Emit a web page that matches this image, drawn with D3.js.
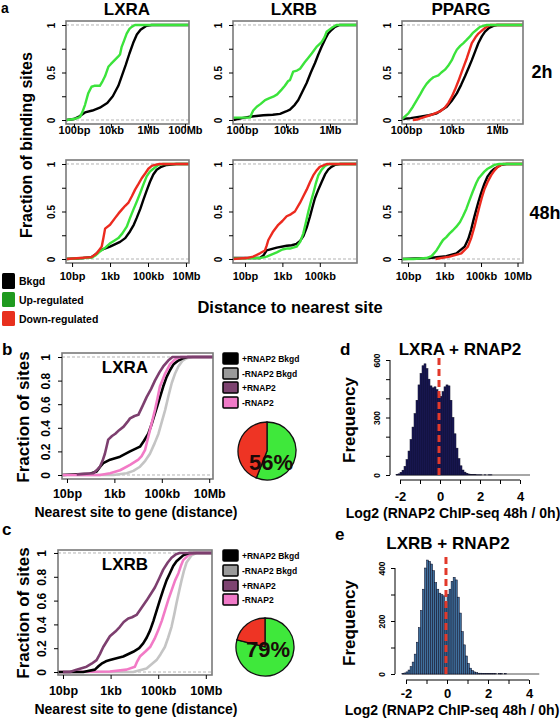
<!DOCTYPE html>
<html><head><meta charset="utf-8">
<script src="https://cdn.jsdelivr.net/npm/d3@7"></script>
<style>
body{margin:0;background:#fff}
svg{display:block}
text{font-family:"Liberation Sans",Arial,Helvetica,sans-serif;font-weight:bold;fill:#000}
</style>
</head><body>
<svg id="c" width="560" height="718"></svg>
<script>
// ---------------- DATA ----------------
// CDF curves: [log10(distance in bp), fraction of sites]
const a2h_LXRA_bkgd=[[1.6,0],[2.0,0.01],[2.3,0.04],[2.6,0.08],[3.0,0.10],[3.4,0.13],[3.8,0.18],[4.1,0.25],[4.4,0.36],[4.6,0.47],[4.8,0.58],[5.0,0.70],[5.2,0.81],[5.4,0.90],[5.6,0.95],[5.9,0.99],[6.2,1],[8.22,1]];
const a2h_LXRA_up=[[1.6,0],[2.0,0.01],[2.32,0.03],[2.45,0.08],[2.6,0.16],[2.77,0.28],[2.95,0.35],[3.1,0.36],[3.4,0.36],[3.55,0.41],[3.68,0.46],[3.86,0.56],[4.0,0.59],[4.2,0.63],[4.4,0.67],[4.49,0.69],[4.58,0.77],[4.7,0.83],[4.85,0.91],[5.0,0.96],[5.12,0.98],[5.3,1],[8.22,1]];
const a2h_LXRB_bkgd=[[1.6,0],[2.0,0.02],[2.36,0.035],[2.97,0.05],[3.4,0.055],[3.73,0.065],[4.0,0.09],[4.18,0.11],[4.4,0.16],[4.56,0.21],[4.75,0.3],[4.94,0.39],[5.13,0.5],[5.32,0.6],[5.47,0.69],[5.62,0.77],[5.78,0.85],[5.92,0.91],[6.08,0.95],[6.23,0.98],[6.45,1],[7.23,1]];
const a2h_LXRB_up=[[1.6,0.025],[2.36,0.025],[2.45,0.07],[2.51,0.1],[2.67,0.14],[2.85,0.17],[3.05,0.21],[3.25,0.23],[3.42,0.245],[3.6,0.27],[3.8,0.32],[3.95,0.36],[4.1,0.41],[4.18,0.42],[4.33,0.51],[4.5,0.52],[4.64,0.54],[4.86,0.61],[5.0,0.65],[5.17,0.7],[5.39,0.77],[5.62,0.82],[5.75,0.87],[5.85,0.93],[6.08,0.97],[6.3,1],[7.23,1]];
const a2h_PPARG_bkgd=[[1.82,0.01],[2.2,0.02],[2.62,0.035],[3.0,0.05],[3.35,0.07],[3.79,0.14],[4.0,0.2],[4.23,0.28],[4.42,0.37],[4.59,0.46],[4.75,0.55],[4.89,0.63],[5.05,0.73],[5.18,0.81],[5.33,0.88],[5.47,0.93],[5.65,0.97],[5.84,0.99],[6.0,1],[7.14,1]];
const a2h_PPARG_down=[[2.3,0],[2.47,0.005],[2.8,0.03],[3.05,0.05],[3.49,0.09],[3.7,0.13],[3.86,0.18],[4.0,0.24],[4.15,0.32],[4.3,0.41],[4.45,0.51],[4.56,0.58],[4.67,0.65],[4.78,0.73],[4.89,0.81],[5.05,0.87],[5.18,0.91],[5.47,0.97],[5.7,1],[7.14,1]];
const a2h_PPARG_up=[[1.82,0.01],[2.1,0.07],[2.3,0.14],[2.47,0.21],[2.62,0.27],[2.76,0.33],[2.9,0.38],[3.05,0.42],[3.2,0.45],[3.42,0.47],[3.55,0.5],[3.71,0.53],[3.85,0.57],[4.01,0.63],[4.12,0.69],[4.23,0.74],[4.38,0.78],[4.52,0.81],[4.65,0.84],[4.81,0.88],[4.95,0.92],[5.1,0.95],[5.25,0.98],[5.4,0.99],[5.55,1],[7.14,1]];
const a48_LXRA_bkgd=[[0.7,0],[1.59,0.01],[2.03,0.02],[2.25,0.05],[2.47,0.09],[3.0,0.13],[3.53,0.18],[3.8,0.22],[4.05,0.29],[4.25,0.36],[4.4,0.43],[4.6,0.53],[4.75,0.62],[4.93,0.72],[5.1,0.81],[5.28,0.89],[5.46,0.94],[5.7,0.97],[5.98,0.99],[6.5,1],[7.16,1]];
const a48_LXRA_up=[[0.7,0],[1.59,0.01],[2.03,0.015],[2.25,0.04],[2.47,0.08],[2.75,0.12],[3.0,0.165],[3.2,0.19],[3.44,0.22],[3.65,0.27],[3.88,0.34],[4.05,0.43],[4.23,0.52],[4.4,0.6],[4.58,0.69],[4.75,0.78],[4.93,0.87],[5.1,0.92],[5.28,0.95],[5.54,0.99],[5.8,1],[7.16,1]];
const a48_LXRA_down=[[0.7,0],[1.42,0.01],[2.03,0.02],[2.3,0.06],[2.56,0.13],[2.65,0.22],[2.74,0.32],[3.0,0.36],[3.26,0.43],[3.45,0.48],[3.62,0.52],[3.8,0.56],[3.96,0.59],[4.15,0.66],[4.32,0.73],[4.5,0.79],[4.67,0.85],[4.85,0.9],[5.02,0.95],[5.2,0.98],[5.37,0.99],[5.6,1],[7.16,1]];
const a48_LXRB_bkgd=[[0.36,0.01],[1.8,0.01],[2.0,0.04],[2.16,0.09],[2.7,0.12],[3.23,0.14],[3.5,0.145],[3.76,0.16],[3.95,0.19],[4.12,0.24],[4.3,0.33],[4.48,0.45],[4.6,0.54],[4.74,0.64],[4.92,0.73],[5.1,0.81],[5.28,0.89],[5.45,0.94],[5.62,0.97],[5.81,0.99],[6.1,1],[6.99,1]];
const a48_LXRB_up=[[0.36,0.005],[1.8,0.01],[2.16,0.025],[2.7,0.07],[3.0,0.1],[3.23,0.11],[3.4,0.11],[3.76,0.13],[3.95,0.18],[4.12,0.27],[4.25,0.38],[4.39,0.5],[4.52,0.6],[4.65,0.69],[4.78,0.79],[4.92,0.88],[5.1,0.94],[5.28,0.98],[5.5,1],[6.99,1]];
const a48_LXRB_down=[[0.36,0],[1.09,0.01],[1.44,0.025],[1.8,0.06],[2.07,0.09],[2.16,0.14],[2.25,0.2],[2.51,0.29],[2.78,0.36],[3.0,0.4],[3.23,0.45],[3.45,0.47],[3.67,0.5],[3.94,0.59],[4.12,0.66],[4.3,0.73],[4.48,0.81],[4.65,0.88],[4.82,0.93],[5.0,0.97],[5.37,1],[6.99,1]];
const a48_PPARG_bkgd=[[0.67,0],[2.2,0.01],[3.1,0.03],[3.65,0.06],[4.1,0.13],[4.3,0.21],[4.46,0.31],[4.6,0.42],[4.74,0.52],[4.87,0.61],[5.0,0.69],[5.18,0.79],[5.36,0.87],[5.55,0.92],[5.73,0.95],[6.09,0.99],[6.4,1],[7.3,1]];
const a48_PPARG_down=[[2.5,0],[3.28,0.025],[3.92,0.06],[4.28,0.13],[4.46,0.22],[4.64,0.34],[4.78,0.45],[4.91,0.55],[5.05,0.65],[5.18,0.73],[5.36,0.81],[5.55,0.88],[5.73,0.93],[5.91,0.97],[6.2,1],[7.3,1]];
const a48_PPARG_up=[[0.67,0],[1.29,0],[2.01,0.01],[2.29,0.03],[2.56,0.09],[2.75,0.15],[2.92,0.2],[3.1,0.23],[3.28,0.27],[3.45,0.3],[3.65,0.34],[3.85,0.39],[4.01,0.45],[4.2,0.53],[4.37,0.62],[4.55,0.71],[4.74,0.8],[4.87,0.85],[5.0,0.88],[5.18,0.92],[5.36,0.95],[5.55,0.97],[5.73,0.99],[6.0,1],[7.3,1]];

const b_gray=[[0.79,0],[2.96,0],[3.52,0.015],[3.8,0.035],[4.08,0.07],[4.3,0.12],[4.5,0.18],[4.7,0.27],[4.86,0.35],[5.0,0.45],[5.14,0.55],[5.28,0.67],[5.42,0.78],[5.56,0.86],[5.7,0.92],[5.88,0.97],[6.05,0.99],[6.3,1],[7.16,1]];
const b_black=[[0.79,0],[1.97,0.01],[2.25,0.03],[2.4,0.07],[2.53,0.1],[2.82,0.13],[3.24,0.155],[3.66,0.2],[4.08,0.24],[4.25,0.29],[4.43,0.35],[4.57,0.43],[4.71,0.52],[4.88,0.63],[5.06,0.75],[5.2,0.83],[5.35,0.89],[5.5,0.94],[5.7,0.97],[5.9,0.99],[6.1,1],[7.16,1]];
const b_pink=[[0.79,0],[2.39,0],[2.82,0.015],[3.24,0.04],[3.66,0.085],[4.01,0.13],[4.15,0.16],[4.29,0.21],[4.4,0.3],[4.5,0.38],[4.6,0.46],[4.71,0.55],[4.82,0.65],[4.92,0.75],[5.04,0.81],[5.14,0.86],[5.35,0.94],[5.5,0.97],[5.63,0.99],[5.8,1],[7.16,1]];
const b_purple=[[1.41,0.005],[2.11,0.015],[2.25,0.04],[2.39,0.07],[2.5,0.12],[2.6,0.18],[2.67,0.24],[2.74,0.3],[2.9,0.33],[3.04,0.35],[3.2,0.38],[3.39,0.41],[3.55,0.45],[3.66,0.48],[3.85,0.5],[4.01,0.51],[4.2,0.59],[4.36,0.66],[4.55,0.73],[4.71,0.8],[4.9,0.87],[5.06,0.92],[5.27,0.97],[5.45,1],[7.16,1]];

const c_gray=[[0.79,0],[3.95,0],[4.51,0.03],[4.93,0.1],[5.1,0.15],[5.28,0.21],[5.42,0.29],[5.56,0.38],[5.67,0.48],[5.77,0.58],[5.88,0.68],[5.98,0.77],[6.08,0.85],[6.19,0.92],[6.4,0.98],[6.6,1],[7.26,1]];
const c_black=[[0.79,0],[1.85,0],[2.34,0.02],[2.5,0.05],[2.62,0.07],[2.8,0.09],[2.97,0.1],[3.53,0.13],[3.95,0.17],[4.2,0.2],[4.37,0.24],[4.52,0.29],[4.66,0.35],[4.8,0.43],[4.94,0.52],[5.08,0.61],[5.21,0.69],[5.35,0.77],[5.49,0.83],[5.63,0.89],[5.77,0.93],[6.05,0.98],[6.3,1],[7.26,1]];
const c_pink=[[0.79,0],[2.97,0.005],[3.67,0.02],[4.02,0.045],[4.12,0.09],[4.23,0.13],[4.45,0.17],[4.66,0.21],[4.85,0.28],[5.0,0.35],[5.15,0.43],[5.29,0.52],[5.43,0.61],[5.57,0.69],[5.71,0.77],[5.85,0.83],[5.95,0.89],[6.05,0.94],[6.26,0.98],[6.5,1],[7.26,1]];
const c_purple=[[1.0,0],[1.29,0.0],[1.57,0.02],[1.99,0.045],[2.2,0.07],[2.41,0.1],[2.55,0.15],[2.69,0.21],[2.97,0.3],[3.2,0.34],[3.39,0.38],[3.55,0.42],[3.74,0.45],[3.9,0.46],[4.09,0.48],[4.3,0.54],[4.51,0.6],[4.7,0.66],[4.86,0.71],[5.05,0.79],[5.21,0.86],[5.4,0.92],[5.56,0.96],[5.75,0.99],[5.9,1],[7.26,1]];

// tick labels
const ticksEven=[2,4,6,8], labelsEven=['100bp','10kb','1Mb','100Mb'];
const ticksOdd=[1,3,5,7], labelsOdd=['10bp','1kb','100kb','10Mb'];
const aYTicks=[0,0.25,0.5,0.75,1], aYLabels=['0','','0.5','','1'];
const bYTicks=[0,0.2,0.4,0.6,0.8,1], bYLabels=['0','0.2','0.4','0.6','0.8','1'];

// pies: % green (overlap) vs rest
const pieLXRA=[56,44];
const pieLXRB=[79,21];

// histograms: bin start, width and counts
const histStart=-2.2, histWidth=0.1;
const d_counts=[3,6,14,25,45,80,125,185,250,320,390,470,530,570,580,555,500,465,455,460,445,420,410,435,460,470,465,390,300,215,140,85,48,26,15,9,5,3,2,2,1,1,1,0,1,0,1,1];
const e_counts=[2,4,8,15,28,45,75,120,175,240,320,400,430,425,415,390,345,320,305,300,295,270,300,320,350,365,355,290,230,160,110,68,40,22,13,8,5,3,3,2,2,1,1,1,1,1,0,1,1,0,1];
const dYTicks=[0,100,200,300,400,500,600], dYLabels=['0','','','300','','','600'];
const eYTicks=[0,100,200,300,400], eYLabels=['0','','200','','400'];
const hXTicks=[-2,-1,0,1,2,3,4], hXLabels=['-2','','0','','2','','4'];

// colours
const COL={black:'#000000',green:'#3be33b',red:'#ec2a1f',gray:'#c4c4c4',pink:'#f27ac6',purple:'#7d3f6f',
  pieGreen:'#3fe83b',pieRed:'#ee3424',histD:'#1c1b5e',histE:'#3f6f9c'};

// ---------------- DRAW ----------------
const svg=d3.select('#c');
svg.append('rect').attr('width',560).attr('height',718).attr('fill','#fff');

function txt(x,y,s,size,anchor,rot){
  const t=svg.append('text').attr('font-size',size).attr('text-anchor',anchor||'start').text(s);
  if(rot){t.attr('transform',`translate(${x},${y}) rotate(${rot})`);} else {t.attr('x',x).attr('y',y);}
  return t;
}
function styleText(sel,size){
  sel.attr('font-size',size).attr('fill','#000').attr('font-family','"Liberation Sans",Arial,sans-serif').attr('font-weight','bold');
}

function cdf(o){
  const g=svg.append('g');
  const x=d3.scaleLog().domain([10**o.lo,10**o.hi]).range([o.x0,o.x1]);
  const y=d3.scaleLinear().domain(o.yDom).range([o.y1,o.y0]);
  [0,1].forEach(v=>g.append('line').attr('x1',o.x0).attr('x2',o.x1).attr('y1',y(v)).attr('y2',y(v))
     .attr('stroke','#aaaaaa').attr('stroke-width',0.9).attr('stroke-dasharray','3,2'));
  const line=d3.line().x(d=>x(10**d[0])).y(d=>y(d[1]));
  o.series.forEach(s=>g.append('path').datum(s.data).attr('d',line).attr('fill','none')
     .attr('stroke',s.color).attr('stroke-width',o.lw).attr('stroke-linejoin','round'));
  g.append('rect').attr('x',o.x0).attr('y',o.y0).attr('width',o.x1-o.x0).attr('height',o.y1-o.y0)
     .attr('fill','none').attr('stroke','#7a7a7a').attr('stroke-width',1.6);
  const tv=o.xt.filter(e=>e>=o.lo&&e<=o.hi);
  const xa=g.append('g').attr('transform',`translate(0,${o.y1})`)
    .call(d3.axisBottom(x).tickValues(tv.map(e=>10**e)).tickSize(4).tickSizeOuter(0).tickFormat((d,i)=>o.xl[o.xt.indexOf(tv[i])]));
  xa.select('.domain').remove();
  xa.selectAll('line').attr('stroke','#000');
  styleText(xa.selectAll('text').attr('y',o.xLabOff).attr('dy',0),o.xfs);
  const ya=g.append('g').attr('transform',`translate(${o.x0},0)`)
    .call(d3.axisLeft(y).tickValues(o.yt).tickSize(4).tickSizeOuter(0).tickFormat((d,i)=>o.yl[i]));
  ya.select('.domain').remove();
  ya.selectAll('line').attr('stroke','#000');
  styleText(ya.selectAll('text').attr('x',0).attr('dy',0).attr('text-anchor','middle')
    .attr('transform',`translate(${-o.yLabOff},0) rotate(-90)`),o.yfs);
}

// panel a
const rowY=[[21,124],[160,263]];
const colX=[[66,189],[233,357],[402,523]];
const aDom=[-0.042,1.042];
const aDefs=[
  {r:0,c:0,lo:1.57,hi:8.22,xt:ticksEven,xl:labelsEven,series:[[a2h_LXRA_bkgd,'black'],[a2h_LXRA_up,'green']]},
  {r:0,c:1,lo:1.59,hi:7.23,xt:ticksEven,xl:labelsEven,series:[[a2h_LXRB_bkgd,'black'],[a2h_LXRB_up,'green']]},
  {r:0,c:2,lo:1.82,hi:7.14,xt:ticksEven,xl:labelsEven,series:[[a2h_PPARG_bkgd,'black'],[a2h_PPARG_down,'red'],[a2h_PPARG_up,'green']]},
  {r:1,c:0,lo:0.68,hi:7.16,xt:ticksOdd,xl:labelsOdd,series:[[a48_LXRA_bkgd,'black'],[a48_LXRA_up,'green'],[a48_LXRA_down,'red']]},
  {r:1,c:1,lo:0.36,hi:6.99,xt:ticksOdd,xl:labelsOdd,series:[[a48_LXRB_bkgd,'black'],[a48_LXRB_up,'green'],[a48_LXRB_down,'red']]},
  {r:1,c:2,lo:0.67,hi:7.3,xt:ticksOdd,xl:labelsOdd,series:[[a48_PPARG_bkgd,'black'],[a48_PPARG_down,'red'],[a48_PPARG_up,'green']]}
];
aDefs.forEach(d=>cdf({x0:colX[d.c][0],x1:colX[d.c][1],y0:rowY[d.r][0],y1:rowY[d.r][1],lo:d.lo,hi:d.hi,yDom:aDom,
  xt:d.xt,xl:d.xl,yt:aYTicks,yl:aYLabels,series:d.series.map(s=>({data:s[0],color:COL[s[1]]})),
  lw:2.4,xfs:11,yfs:10,xLabOff:d.r===0?10:17,yLabOff:11}));

txt(1,13,'a',14);
txt(127,15,'LXRA',17,'middle');
txt(294,15,'LXRB',17,'middle');
txt(461,15,'PPARG',17,'middle');
txt(542,78,'2h',18,'middle');
txt(545,219,'48h',18,'middle');
txt(32,145,'Fraction of binding sites',16,'middle',-90);
txt(290,313,'Distance to nearest site',16.5,'middle');
const aLeg=[['Bkgd','#000',273,16],['Up-regulated','#1f9a1f',292,15],['Down-regulated','#e8301e',311,15]];
aLeg.forEach(l=>{svg.append('rect').attr('x',2).attr('y',l[2]).attr('width',13).attr('height',l[3]).attr('rx',1.5).attr('fill',l[1]);
  txt(19,l[2]+l[3]/2+4,l[0],10.5);});

// panel b & c
cdf({x0:62,x1:213,y0:353,y1:479,lo:0.79,hi:7.16,yDom:[-0.034,1.034],xt:ticksOdd,xl:labelsOdd,yt:bYTicks,yl:bYLabels,
  series:[{data:b_gray,color:COL.gray},{data:b_black,color:COL.black},{data:b_pink,color:COL.pink},{data:b_purple,color:COL.purple}],
  lw:2.6,xfs:12.5,yfs:12,xLabOff:19,yLabOff:12});
cdf({x0:58,x1:212,y0:550,y1:675,lo:0.79,hi:7.26,yDom:[-0.025,1.025],xt:ticksOdd,xl:labelsOdd,yt:bYTicks,yl:bYLabels,
  series:[{data:c_gray,color:COL.gray},{data:c_pink,color:COL.pink},{data:c_black,color:COL.black},{data:c_purple,color:COL.purple}],
  lw:2.6,xfs:12.5,yfs:12,xLabOff:20,yLabOff:12});
txt(2,355,'b',17);
txt(2,535,'c',17);
txt(125,373,'LXRA',17,'middle');
txt(125,570,'LXRB',17,'middle');
txt(29,417,'Fraction of sites',17,'middle',-90);
txt(29,613,'Fraction of sites',17,'middle',-90);
txt(136,517,'Nearest site to gene (distance)',14,'middle');
txt(136,714,'Nearest site to gene (distance)',14,'middle');

const legItems=[['+RNAP2 Bkgd','#000'],['-RNAP2 Bkgd','#9a9a9a'],['+RNAP2','#7d4370'],['-RNAP2','#f07ac8']];
function legend(y0s){
  legItems.forEach((l,i)=>{svg.append('rect').attr('x',223).attr('y',y0s[i]).attr('width',15).attr('height',11)
    .attr('fill',l[1]).attr('stroke','#000').attr('stroke-width',1.5).attr('rx',1);
    txt(242,y0s[i]+9,l[0],8.5);});
}
legend([353,368,382,397]);
legend([550,565,580,594]);

function pieChart(cx,cy,vals,label,tx,ty){
  const p=d3.pie().sort(null).value(d=>d)(vals);
  const arc=d3.arc().innerRadius(0).outerRadius(29);
  const g=svg.append('g').attr('transform',`translate(${cx},${cy})`);
  g.selectAll('path').data(p).join('path').attr('d',arc).attr('fill',(d,i)=>i===0?COL.pieGreen:COL.pieRed)
    .attr('stroke','#111').attr('stroke-width',1.3);
  txt(tx,ty,label,22,'middle').style('fill','#1a0a08');
}
pieChart(267,451,pieLXRA,pieLXRA[0]+'%',271,470);
pieChart(265,647,pieLXRB,pieLXRB[0]+'%',268,657);

// histograms
function hist(o){
  const g=svg.append('g');
  const x=d3.scaleLinear().domain([0,1]).range([o.zx,o.zx+o.ppu]);
  const y=d3.scaleLinear().domain([0,o.ymax]).range([o.y0,o.ytop]);
  g.append('line').attr('x1',x(histStart)).attr('x2',x(4.5)).attr('y1',y(0)).attr('y2',y(0)).attr('stroke','#8a8a8a').attr('stroke-width',1.5);
  g.selectAll('rect').data(o.counts).join('rect')
    .attr('x',(d,i)=>x(histStart+i*histWidth)).attr('width',(d,i)=>x(histStart+(i+1)*histWidth)-x(histStart+i*histWidth))
    .attr('y',d=>y(d)).attr('height',d=>y(0)-y(d)).attr('fill',o.fill).attr('stroke','#0b0b22').attr('stroke-width',0.5);
  g.append('line').attr('x1',x(-0.05)).attr('x2',x(-0.05)).attr('y1',y(0)).attr('y2',y(o.redTop))
    .attr('stroke','#e2392b').attr('stroke-width',3).attr('stroke-dasharray','7,4');
  const ya=g.append('g').attr('transform',`translate(${o.ax},0)`).call(d3.axisLeft(y).tickValues(o.yt).tickSize(4).tickSizeOuter(0).tickFormat((d,i)=>o.yl[i]));
  ya.select('.domain').remove();
  g.append('line').attr('x1',o.ax).attr('x2',o.ax).attr('y1',y(o.yt[0])).attr('y2',y(o.yt[o.yt.length-1])).attr('stroke','#000');
  ya.selectAll('line').attr('stroke','#000');
  styleText(ya.selectAll('text').attr('x',0).attr('dy',0).attr('text-anchor','middle').attr('transform','translate(-10,0) rotate(-90)'),8.5);
  const xa=g.append('g').attr('transform',`translate(0,${o.ay})`).call(d3.axisBottom(x).tickValues(hXTicks).tickSize(4).tickSizeOuter(0).tickFormat((d,i)=>hXLabels[i]));
  xa.select('.domain').remove();
  g.append('line').attr('x1',x(hXTicks[0])).attr('x2',x(hXTicks[hXTicks.length-1])).attr('y1',o.ay).attr('y2',o.ay).attr('stroke','#000');
  xa.selectAll('line').attr('stroke','#000');
  styleText(xa.selectAll('text').attr('y',o.xlo).attr('dy',0),13);
}
hist({zx:440,ppu:20,y0:475,ytop:360,ymax:600,counts:d_counts,fill:COL.histD,redTop:610,ax:390,ay:480,yt:dYTicks,yl:dYLabels,xlo:21});
hist({zx:447,ppu:20.5,y0:674,ytop:568,ymax:400,counts:e_counts,fill:COL.histE,redTop:457,ax:395,ay:680,yt:eYTicks,yl:eYLabels,xlo:18});
txt(340,355,'d',17);
txt(460,355,'LXRA + RNAP2',17,'middle');
txt(355,420,'Frequency',17,'middle',-90);
txt(453,518,'Log2 (RNAP2 ChIP-seq 48h / 0h)',14,'middle');
txt(335,540,'e',17);
txt(448,549,'LXRB + RNAP2',17,'middle');
txt(355,623,'Frequency',17,'middle',-90);
txt(452,715,'Log2 (RNAP2 ChIP-seq 48h / 0h)',14,'middle');
</script>
</body></html>
